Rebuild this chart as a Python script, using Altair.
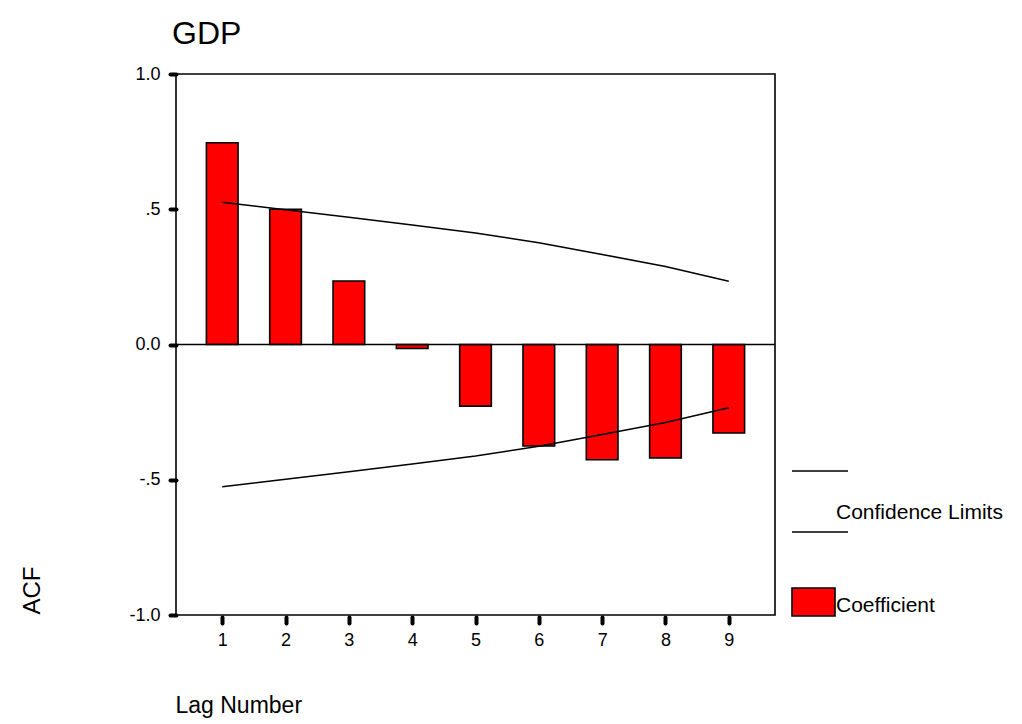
import altair as alt
import pandas as pd

lags = [1, 2, 3, 4, 5, 6, 7, 8, 9]
acf = [0.746, 0.500, 0.235, -0.015, -0.228, -0.375, -0.426, -0.419, -0.327]
upper = [0.526, 0.498, 0.470, 0.442, 0.412, 0.376, 0.333, 0.288, 0.234]
lower = [-0.526, -0.498, -0.470, -0.442, -0.412, -0.376, -0.333, -0.288, -0.234]
y_ticks = [-1.0, -0.5, 0.0, 0.5, 1.0]

FONT = "Liberation Sans"

bars_df = pd.DataFrame({"lag": lags, "acf": acf})
conf_df = pd.DataFrame({
    "lag": lags * 2,
    "value": upper + lower,
    "limit": ["upper"] * len(lags) + ["lower"] * len(lags),
})
one = pd.DataFrame({"k": [0]})

xscale = alt.Scale(domain=[0.27, 9.73], nice=False, zero=False)
yscale = alt.Scale(domain=[-1, 1], nice=False)

xaxis = alt.Axis(
    values=lags, format="d", title="Lag Number", grid=False, domain=False,
    tickColor="black", tickWidth=4, tickSize=6, tickCap="round", offset=2,
    labelFont=FONT, labelFontSize=18, labelColor="black", labelPadding=8,
    titleFont=FONT, titleFontSize=23, titleFontWeight="normal", titleColor="black",
    titleX=-1, titleY=88, titleAlign="left", titleBaseline="middle", titleAnchor="start",
)
yaxis = alt.Axis(
    values=y_ticks, title="ACF", grid=False, domain=False,
    labelExpr="datum.value == 1 ? '1.0' : datum.value == 0.5 ? '.5' : datum.value == 0 ? '0.0' : datum.value == -0.5 ? '-.5' : '-1.0'",
    tickColor="black", tickWidth=4, tickSize=6, tickCap="round",
    labelFont=FONT, labelFontSize=18, labelColor="black", labelPadding=10,
    titleFont=FONT, titleFontSize=24, titleFontWeight="normal", titleColor="black",
    titleAngle=270, titleX=-144, titleY=516, titleAlign="center", titleBaseline="middle",
)

bars = alt.Chart(bars_df).transform_calculate(
    x0="datum.lag - 0.25", x1="datum.lag + 0.25"
).mark_bar(color="#ff0000", stroke="black", strokeWidth=1.6).encode(
    x=alt.X("x0:Q", scale=xscale, axis=xaxis),
    x2="x1:Q",
    y=alt.Y("acf:Q", scale=yscale, axis=yaxis),
    y2=alt.datum(0),
)

zero = alt.Chart(one).mark_rule(color="black", strokeWidth=1.6).encode(
    y=alt.datum(0), x=alt.value(0), x2=alt.value(599)
)

conf = alt.Chart(conf_df).mark_line(color="black", strokeWidth=1.5).encode(
    x=alt.X("lag:Q", scale=xscale),
    y=alt.Y("value:Q", scale=yscale),
    detail="limit:N",
)

# legend drawn beside the plot
leg_line1 = alt.Chart(one).mark_rule(color="black", strokeWidth=1.5).encode(
    x=alt.value(616), x2=alt.value(672), y=alt.value(397)
)
leg_line2 = alt.Chart(one).mark_rule(color="black", strokeWidth=1.5).encode(
    x=alt.value(616), x2=alt.value(672), y=alt.value(458)
)
leg_text1 = alt.Chart(one).mark_text(
    text="Confidence Limits", font=FONT, fontSize=21, align="left", baseline="middle", color="black"
).encode(x=alt.value(660), y=alt.value(439))
leg_rect = alt.Chart(one).mark_rect(color="#ff0000", stroke="black", strokeWidth=1.6).encode(
    x=alt.value(616), x2=alt.value(659), y=alt.value(514), y2=alt.value(542)
)
leg_text2 = alt.Chart(one).mark_text(
    text="Coefficient", font=FONT, fontSize=21, align="left", baseline="middle", color="black"
).encode(x=alt.value(660), y=alt.value(532))

chart = alt.layer(
    bars, zero, conf, leg_line1, leg_line2, leg_text1, leg_rect, leg_text2
).properties(
    width=599, height=541,
    title=alt.TitleParams("GDP", font=FONT, fontSize=32, fontWeight="normal", color="black",
                          anchor="start", frame="group", offset=14, dx=-4),
    autosize=alt.AutoSizeParams(type="none"),
    padding={"left": 168, "top": 66, "right": 230, "bottom": 109},
).configure(
    background="white"
).configure_view(
    stroke="black", strokeWidth=1.6
)

chart.save("out.html", embed_options={"renderer": "svg", "actions": False})
